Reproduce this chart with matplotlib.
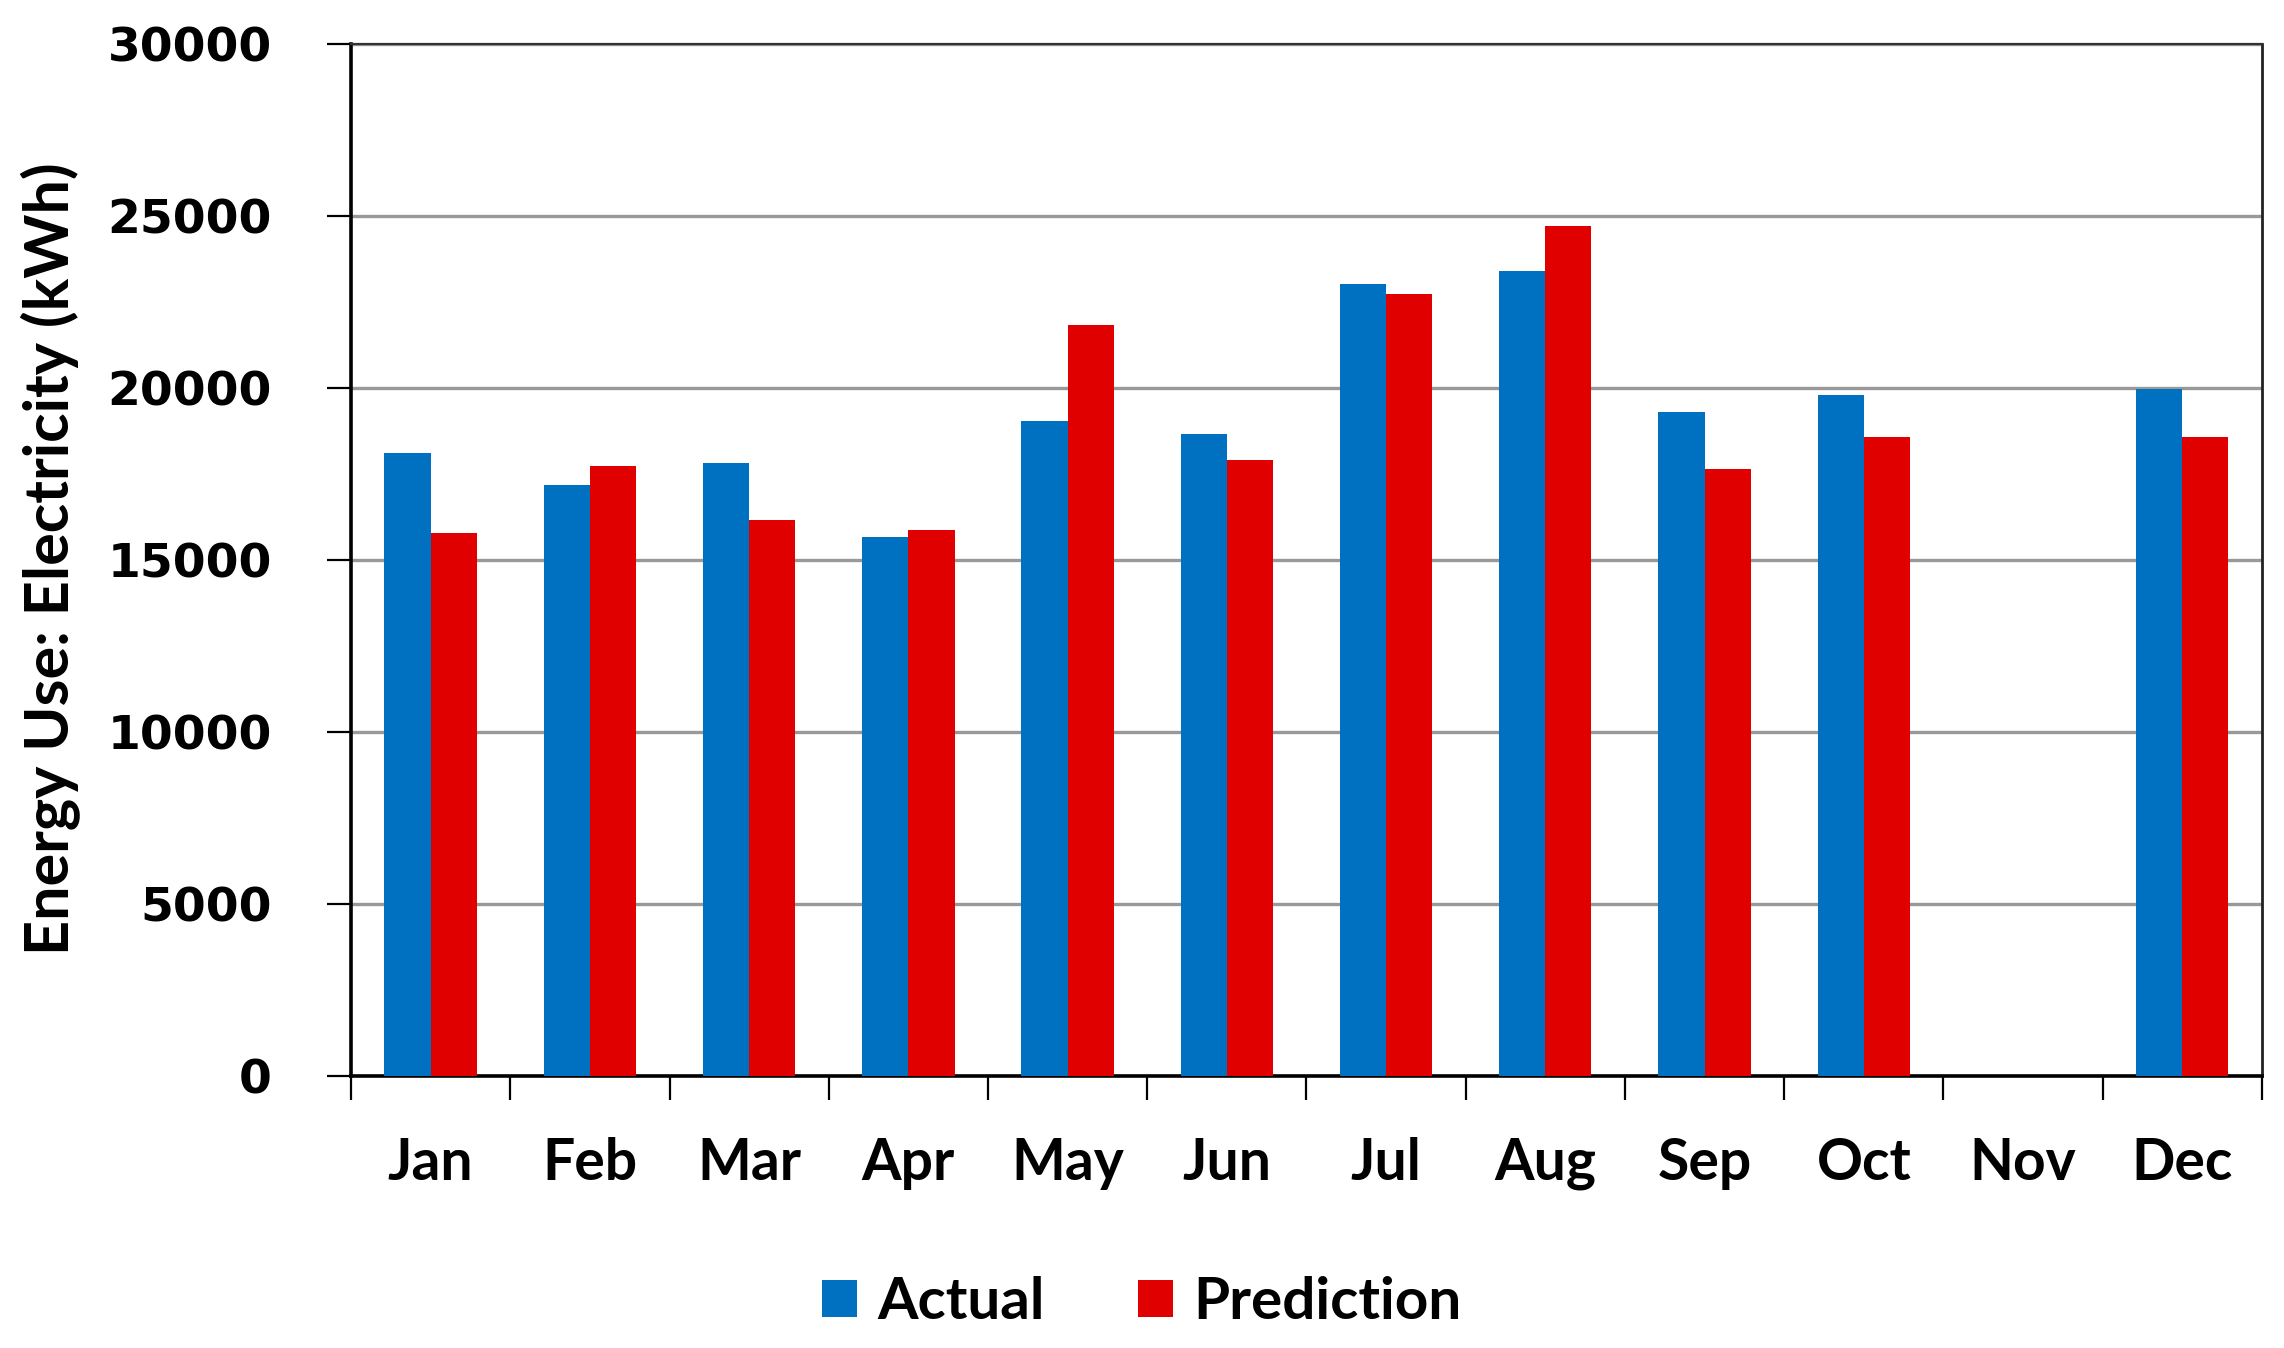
import numpy as np
import matplotlib
matplotlib.use('Agg')
import matplotlib.pyplot as plt

months = ['Jan', 'Feb', 'Mar', 'Apr', 'May', 'Jun', 'Jul', 'Aug', 'Sep', 'Oct', 'Nov', 'Dec']
actual = [18100, 17170, 17820, 15680, 19030, 18660, 23030, 23400, 19310, 19780, 0, 19980]
prediction = [15780, 17740, 16150, 15870, 21820, 17910, 22740, 24700, 17640, 18560, 0, 18560]

blue = '#0070C0'
red = '#E00000'

fig = plt.figure(figsize=(22.84, 13.48), dpi=100)
ax = fig.add_axes([0.1537, 0.2015, 0.8366, 0.7661])

x = np.arange(len(months))
w = 0.29
ax.bar(x - w/2, actual, width=w, color=blue, label='Actual', zorder=3)
ax.bar(x + w/2, prediction, width=w, color=red, label='Prediction', zorder=3)

ax.set_xlim(-0.5, len(months) - 0.5)
ax.set_ylim(0, 30000)
ax.set_yticks(np.arange(0, 30001, 5000))
ax.yaxis.grid(True, color='#999999', linewidth=2.4, zorder=0)
ax.set_axisbelow(True)

# category boundary ticks, labels at the centres
ax.set_xticks(np.arange(-0.5, len(months), 1.0))
ax.set_xticklabels([])
ax.set_xticks(x, minor=True)
ax.set_xticklabels(months, minor=True, fontsize=41, fontweight='bold', family='Lato')
ax.tick_params(axis='x', which='major', direction='out', length=17, width=1.6, color='black')
ax.tick_params(axis='x', which='minor', length=0, pad=44)
ax.tick_params(axis='y', direction='out', length=17, width=1.6, pad=40, color='black')
for lab in ax.get_yticklabels():
    lab.set_fontsize(34)
    lab.set_fontweight('bold')

for s in ['left', 'bottom']:
    ax.spines[s].set_linewidth(2.6)
    ax.spines[s].set_color('black')
ax.spines['right'].set_linewidth(2.0)
ax.spines['right'].set_color('#222222')
ax.spines['top'].set_linewidth(1.6)
ax.spines['top'].set_color('#333333')

fig.text(0.0223, 0.5856, 'Energy Use: Electricity (kWh)', rotation=90, ha='center', va='center',
         fontsize=44, fontweight='bold', family='Lato')

fig.legend(loc='center', bbox_to_anchor=(0.5, 0.0335), ncol=2, frameon=False,
           prop={'family': 'Lato', 'weight': 'bold', 'size': 42},
           handlelength=0.6, handleheight=0.6, handletextpad=0.35, columnspacing=1.6)

fig.savefig('out.png', dpi=100)
